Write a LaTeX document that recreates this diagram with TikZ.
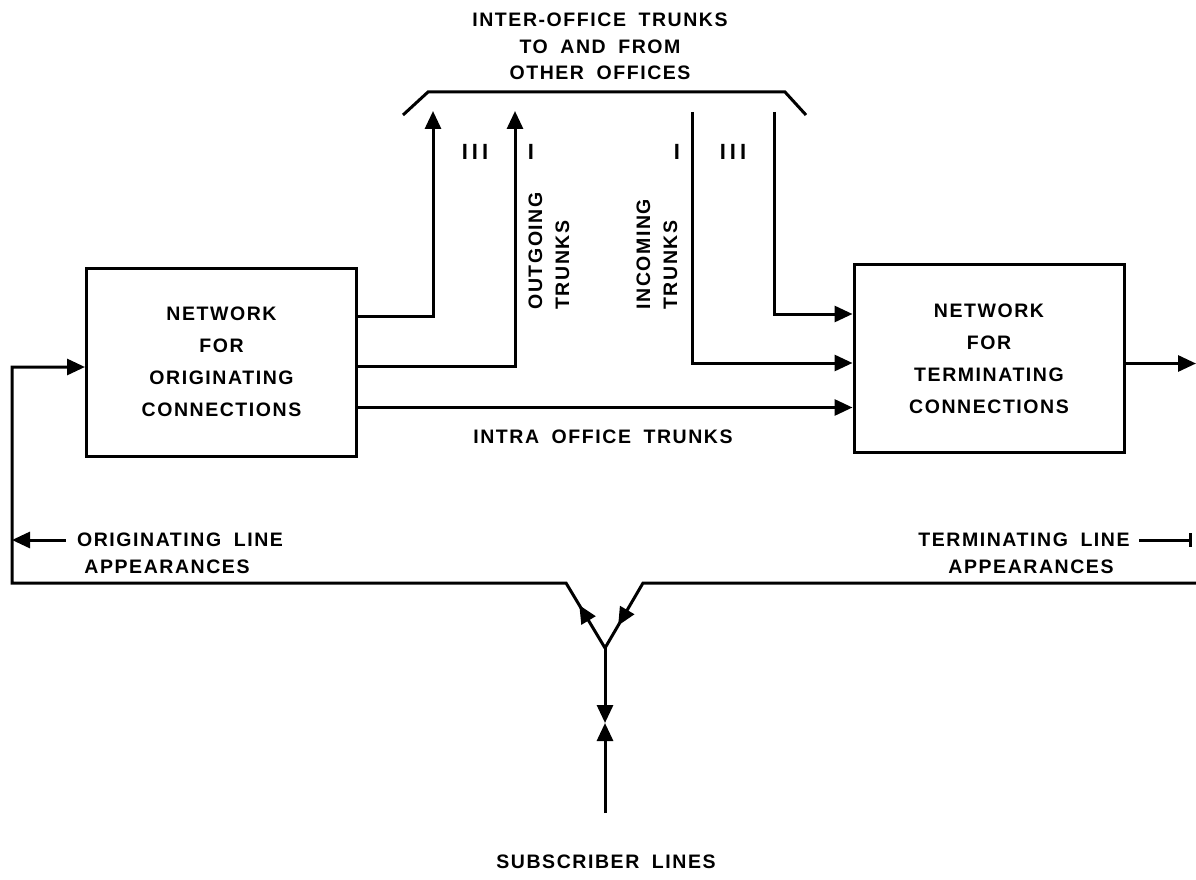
\documentclass[tikz,border=0pt]{standalone}
\usepackage{fontspec}
\usetikzlibrary{arrows.meta, decorations.markings}
\newfontfamily\diafont{Liberation Sans Bold}[LetterSpace=8, WordSpace=1.8]

\begin{document}
\begin{tikzpicture}[
  x=1pt, y=-1pt,
  line width=3pt,
  netbox/.style={draw, align=center, minimum width=270pt, minimum height=188pt,
               inner sep=0pt, font=\diafont\fontsize{19.5}{32}\selectfont},
  lbl/.style={align=center, inner sep=1pt, font=\diafont\fontsize{19.5}{26.5}\selectfont},
  rotlbl/.style={lbl, rotate=90, anchor=west, align=left,
               font=\diafont\fontsize{19.5}{27}\selectfont},
  ticks/.style={lbl, font=\diafont\fontsize{22}{22}\selectfont},
  arrow/.style={-{Triangle[length=18pt, width=16pt]}},
  midarrow/.style={decoration={markings, mark=at position #1 with
               {\arrow{Triangle[length=18pt, width=16pt]}}}, postaction={decorate}},
]
\useasboundingbox (0,0) rectangle (1196,880);

\node[netbox] (orig) at (221.5,362) {NETWORK\\FOR\\ORIGINATING\\CONNECTIONS};
\node[netbox] (term) at (989,358.5) {NETWORK\\FOR\\TERMINATING\\CONNECTIONS};

\node[lbl] (hdr) at (600,46.5) {INTER-OFFICE TRUNKS\\TO AND FROM\\OTHER OFFICES};
\draw (403,115) -- (428,92) -- (785,92) -- (806,115);

\coordinate (upA) at (433,111);
\coordinate (upB) at (515,111);
\coordinate (inA) at (692,112);
\coordinate (inB) at (774,112);

\node[ticks] (grpA) at (475,152) {I\kern4pt I\kern4pt I};
\node[ticks] (grpB) at (531,152) {I};
\node[ticks] (grpC) at (677,152) {I};
\node[ticks] (grpD) at (733,152) {I\kern4pt I\kern4pt I};

\node[rotlbl] (outlbl) at (549,312) {OUTGOING\\TRUNKS};
\node[rotlbl] (inlbl) at (657,312) {INCOMING\\TRUNKS};

\draw[arrow] ([yshift=-50pt]orig.north east) -| (upA);
\draw[arrow] ([yshift=-100pt]orig.north east) -| (upB);
\draw[arrow] ([yshift=-141pt]orig.north east) coordinate (intra) -- (intra -| term.west);
\draw[arrow] (inA) |- ([yshift=-100pt]term.north west);
\draw[arrow] (inB) |- ([yshift=-51pt]term.north west);
\node[lbl] (intralbl) at (603,437) {INTRA OFFICE TRUNKS};

\coordinate (outR) at (1196,363.5);
\draw[arrow] (term.east |- outR) -- (outR);

\coordinate (yj) at (605,648);
\coordinate (ylA) at (566,583);
\coordinate (yrB) at (643,583);
\coordinate (lc) at (12,583);
\coordinate (rc) at (1196,583);
\coordinate (rbar) at (1192,540);
\coordinate (smid) at (605,723);
\coordinate (sbot) at (605,813);

\draw[arrow, midarrow=50pt] (yj) -- (ylA) -- (lc) |- ([yshift=-5pt]orig.west);
\draw[midarrow=-26pt] (rc) -- (yrB) -- (yj);
\draw[arrow] (yj) -- (smid);
\draw[arrow] (sbot) -- (smid);

\node[lbl] (olA) at (180,540) {ORIGINATING LINE};
\node[lbl] (olB) at (167,567) {APPEARANCES};
\draw[arrow] ([xshift=-9pt]olA.west) -- (olA.west -| lc);
\node[lbl] (tlA) at (1024,540) {TERMINATING LINE};
\node[lbl] (tlB) at (1031,567) {APPEARANCES};
\draw[-{Bar[width=14pt]}] ([xshift=7pt]tlA.east) -- (tlA.east -| rbar);

\node[lbl] (subs) at (606,862) {SUBSCRIBER LINES};
\end{tikzpicture}
\end{document}
